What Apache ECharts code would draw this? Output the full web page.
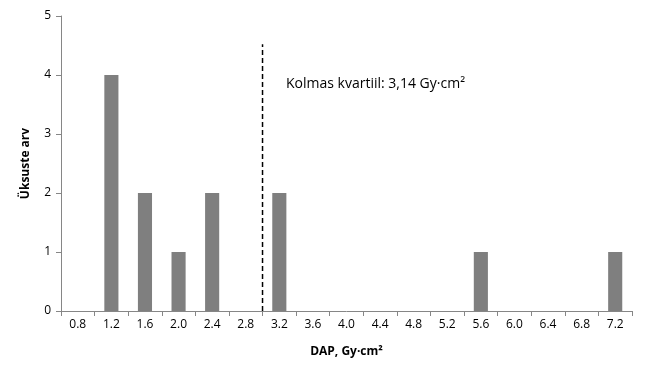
<!DOCTYPE html>
<html><head><meta charset="utf-8">
<script src="https://cdn.jsdelivr.net/npm/echarts@6/dist/echarts.min.js"></script>
<style>html,body{margin:0;padding:0;background:#fff}#c{width:649px;height:378px}</style>
</head><body><div id="c"></div>
<script>
var categories = ['0.8','1.2','1.6','2.0','2.4','2.8','3.2','3.6','4.0','4.4','4.8','5.2','5.6','6.0','6.4','6.8','7.2'];
var counts = [0,4,2,1,2,0,2,0,0,0,0,0,1,0,0,0,1];
var yTicks = [0,1,2,3,4,5];
var quartileLineX = 3.0;
var quartileLineTop = 4.52;
var quartileLabel = 'Kolmas kvartiil: 3,14 Gy·cm²';
var font = 'Open Sans';
var chart = echarts.init(document.getElementById('c'));
chart.setOption({
  animation:false,
  grid:{left:61,right:17,top:16,bottom:67},
  xAxis:[{
    type:'category', data:categories,
    axisLine:{lineStyle:{color:'#868686',width:1}},
    axisTick:{show:true,length:5,lineStyle:{color:'#868686'}},
    axisLabel:{color:'#000',fontFamily:font,fontSize:12,margin:8},
    name:'DAP, Gy·cm²', nameLocation:'middle', nameGap:35,
    nameTextStyle:{fontFamily:font,fontWeight:'bold',fontSize:12,color:'#000'}
  },{
    type:'value', min:0.6, max:7.4, show:false
  }],
  yAxis:{
    type:'value', min:yTicks[0], max:yTicks[yTicks.length-1], interval:1,
    axisLine:{show:true,lineStyle:{color:'#868686'}},
    axisTick:{show:true,length:5,lineStyle:{color:'#868686'}},
    splitLine:{show:false},
    axisLabel:{color:'#000',fontFamily:font,fontSize:12,margin:10},
    name:'Üksuste arv', nameLocation:'middle', nameGap:29, nameRotate:90,
    nameTextStyle:{fontFamily:font,fontWeight:'bold',fontSize:12,color:'#000'}
  },
  series:[{
    type:'bar', data:counts, barWidth:'42%', xAxisIndex:0,
    itemStyle:{color:'#7f7f7f'}
  },{
    type:'line', xAxisIndex:1, data:[[quartileLineX,0],[quartileLineX,quartileLineTop]],
    symbol:'none', lineStyle:{color:'#000',width:1.5,type:[5,3]}
  }],
  graphic:[{type:'text',left:286,top:77,style:{text:quartileLabel,fontFamily:font,fontSize:14,fill:'#000'}}]
});
</script></body></html>
